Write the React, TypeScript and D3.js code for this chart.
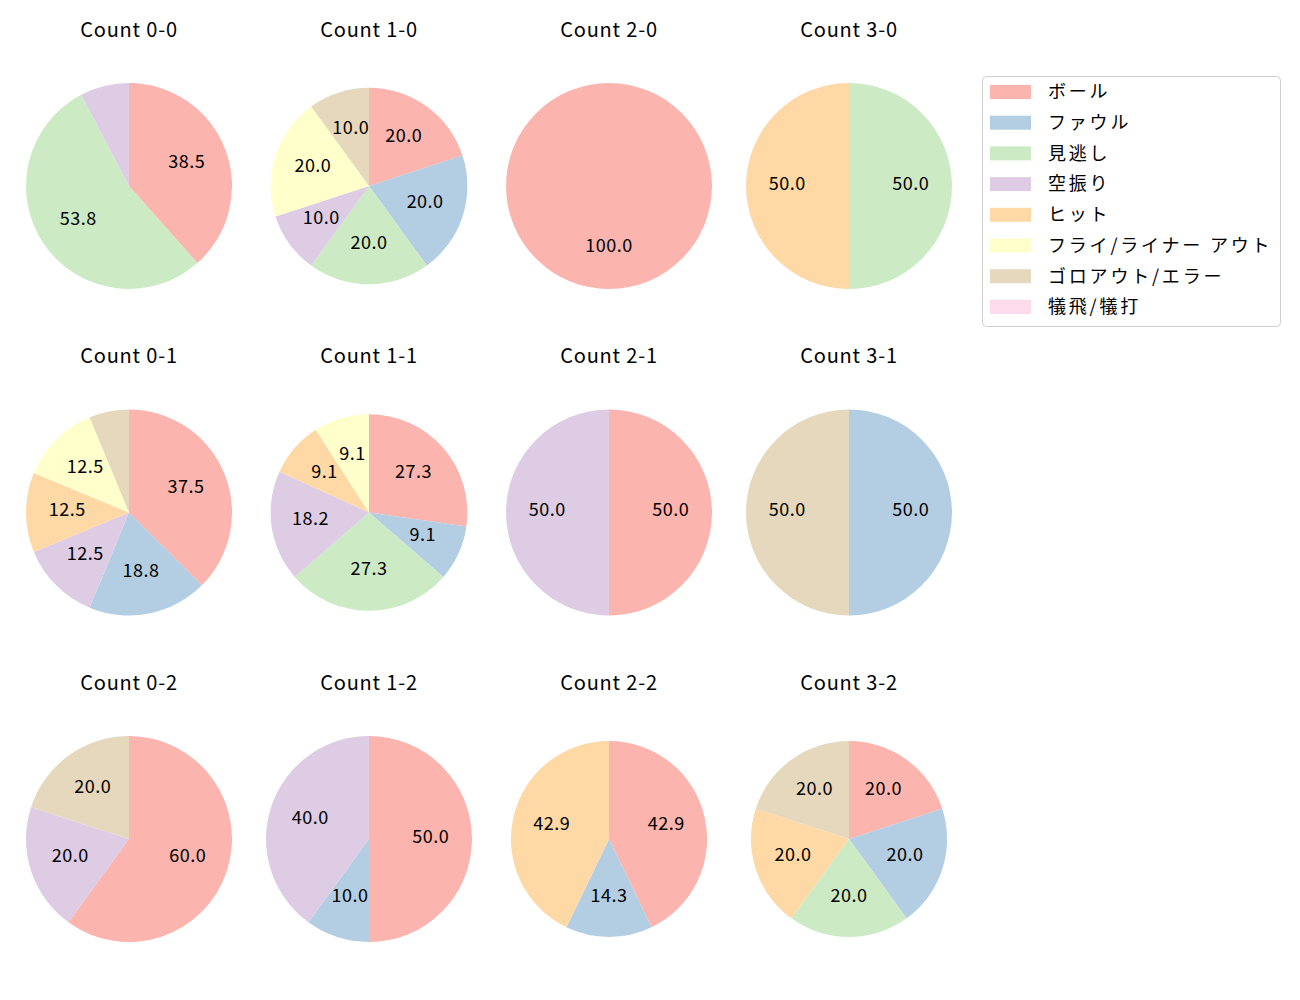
import React from 'react';
import * as d3 from 'd3';

const categories = ['ボール', 'ファウル', '見逃し', '空振り', 'ヒット', 'フライ/ライナー アウト', 'ゴロアウト/エラー', '犠飛/犠打'];
const colors = ['#fbb4ae', '#b3cde3', '#ccebc5', '#decbe4', '#fed9a6', '#ffffcc', '#e5d8bd', '#fddaec'];

const titles = [
  'Count 0-0', 'Count 1-0', 'Count 2-0', 'Count 3-0',
  'Count 0-1', 'Count 1-1', 'Count 2-1', 'Count 3-1',
  'Count 0-2', 'Count 1-2', 'Count 2-2', 'Count 3-2',
];

// pitch counts per category, in category order
const counts = [
  [5, 0, 7, 1, 0, 0, 0, 0],
  [2, 2, 2, 1, 0, 2, 1, 0],
  [1, 0, 0, 0, 0, 0, 0, 0],
  [0, 0, 1, 0, 1, 0, 0, 0],
  [6, 3, 0, 2, 2, 2, 1, 0],
  [3, 1, 3, 2, 1, 1, 0, 0],
  [1, 0, 0, 1, 0, 0, 0, 0],
  [0, 1, 0, 0, 0, 0, 1, 0],
  [3, 0, 0, 1, 0, 0, 1, 0],
  [5, 1, 0, 4, 0, 0, 0, 0],
  [3, 1, 0, 0, 3, 0, 0, 0],
  [1, 1, 1, 0, 1, 0, 1, 0],
];

// relative pie size per panel
const sizes = [1, 0.955, 1, 1, 1, 0.955, 1, 1, 1, 1, 0.952, 0.952];

const font = '"Noto Sans CJK JP", "Noto Sans", sans-serif';

const Pie = ({ idx }: { idx: number }) => {
  const col = idx % 4;
  const row = Math.floor(idx / 4);
  const cx = 129 + col * 240;
  const cy = 186 + row * 326.5;
  const r = 103 * sizes[idx];
  const vals = counts[idx];
  const total = d3.sum(vals);
  const items = vals.map((v, i) => ({ v, i })).filter((d) => d.v > 0);
  const arcs = d3.pie<{ v: number; i: number }>().sort(null).value((d) => d.v)(items);
  const arc = d3.arc<d3.PieArcDatum<{ v: number; i: number }>>().innerRadius(0).outerRadius(r);
  const labelArc = d3.arc<d3.PieArcDatum<{ v: number; i: number }>>().innerRadius(r * 0.6).outerRadius(r * 0.6);
  return (
    <g>
      <text x={cx} y={cy - 149.5} textAnchor="middle" fontSize={20} letterSpacing={0.8} fontFamily={font} fill="#000">
        {titles[idx]}
      </text>
      <g transform={`translate(${cx},${cy})`}>
        {arcs.map((a) => (
          <path key={a.data.i} d={arc(a) || ''} fill={colors[a.data.i]} />
        ))}
        {arcs.map((a) => {
          const pct = (a.data.v / total) * 100;
          if (pct < 8) return null;
          const [lx, ly] = labelArc.centroid(a);
          return (
            <text key={'t' + a.data.i} x={lx} y={ly} dy="0.21em" textAnchor="middle" fontSize={18} letterSpacing={0.5} fontFamily={font} fill="#000">
              {pct.toFixed(1)}
            </text>
          );
        })}
      </g>
    </g>
  );
};

const App = () => {
  return (
    <svg width={1300} height={1000} style={{ position: 'absolute', left: 0, top: 0, background: '#fff' }}>
      {titles.map((t, i) => (
        <Pie key={t} idx={i} />
      ))}
      <g>
        <rect x={982.5} y={76.5} width={298} height={250} rx={4} fill="#fff" stroke="#d0d0d0" />
        {categories.map((c, i) => (
          <g key={c} transform={`translate(990,${92 + i * 30.7})`}>
            <rect x={0} y={-7} width={41} height={14} fill={colors[i]} />
            <text x={58} y={0} dy="0.35em" fontSize={18} letterSpacing={2.8} fontFamily={font} fill="#000">
              {c}
            </text>
          </g>
        ))}
      </g>
    </svg>
  );
};

export default App;
